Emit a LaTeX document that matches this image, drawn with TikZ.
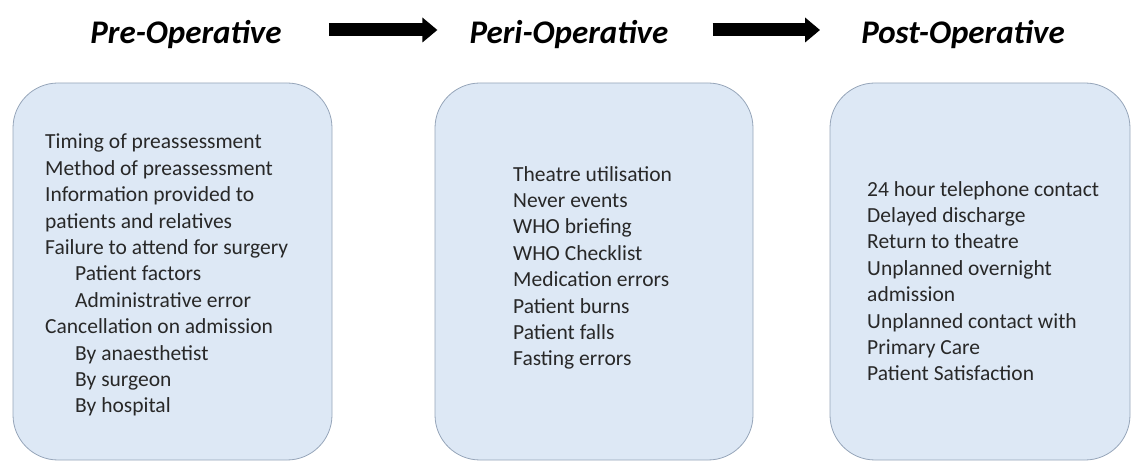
\documentclass[tikz,border=0pt]{standalone}
\usepackage{fontspec}
\setmainfont{Carlito}
\definecolor{boxfill}{RGB}{221,232,245}
\definecolor{boxline}{RGB}{150,165,185}
\definecolor{itemtext}{RGB}{40,40,40}
\usetikzlibrary{arrows.meta,positioning}

\begin{document}
\begin{tikzpicture}[x=1pt, y=1pt,
  phase/.style={font=\fontsize{33}{36}\selectfont\bfseries\itshape, inner sep=0pt},
  stagebox/.style={draw=boxline, fill=boxfill, line width=0.8pt, rounded corners=45pt},
  items/.style={font=\fontsize{21.5}{26.4}\selectfont, text=itemtext, align=left, anchor=north west, inner sep=0pt},
  bigarrow/.style={line width=13pt, -{Triangle[length=15pt, width=24pt]}}]
  \useasboundingbox (0,0) rectangle (1133,461);

  % Phase titles
  \node[phase] (pre) at (186,426) {Pre-Operative};
  \node[phase] (peri) at (569,426) {Peri-Operative};
  \node[phase] (post) at (963,426) {Post-Operative};
  \draw[bigarrow, shorten <=47pt, shorten >=32pt] ([yshift=5pt]pre.east) -- ([yshift=5pt]peri.west);
  \draw[bigarrow, shorten <=44pt, shorten >=41pt] ([yshift=5pt]peri.east) -- ([yshift=5pt]post.west);

  % Boxes
  \draw[stagebox] (13,1) rectangle (332,378);
  \draw[stagebox] (435,1) rectangle (753,378);
  \draw[stagebox] (830,1) rectangle (1130,378);

  % Pre-operative items
  \node[items] (preitems) at (45,327) {Timing of preassessment\\
    Method of preassessment\\
    Information provided to\\
    patients and relatives\\
    Failure to attend for surgery\\
    \hspace*{30pt}Patient factors\\
    \hspace*{30pt}Administrative error\\
    Cancellation on admission\\
    \hspace*{30pt}By anaesthetist\\
    \hspace*{30pt}By surgeon\\
    \hspace*{30pt}By hospital};

  % Peri-operative items
  \node[items] (periitems) at (513,295) {Theatre utilisation\\
    Never events\\
    WHO briefing\\
    WHO Checklist\\
    Medication errors\\
    Patient burns\\
    Patient falls\\
    Fasting errors};

  % Post-operative items
  \node[items] (postitems) at (867,280) {24 hour telephone contact\\
    Delayed discharge\\
    Return to theatre\\
    Unplanned overnight\\
    admission\\
    Unplanned contact with\\
    Primary Care\\
    Patient Satisfaction};
\end{tikzpicture}
\end{document}
